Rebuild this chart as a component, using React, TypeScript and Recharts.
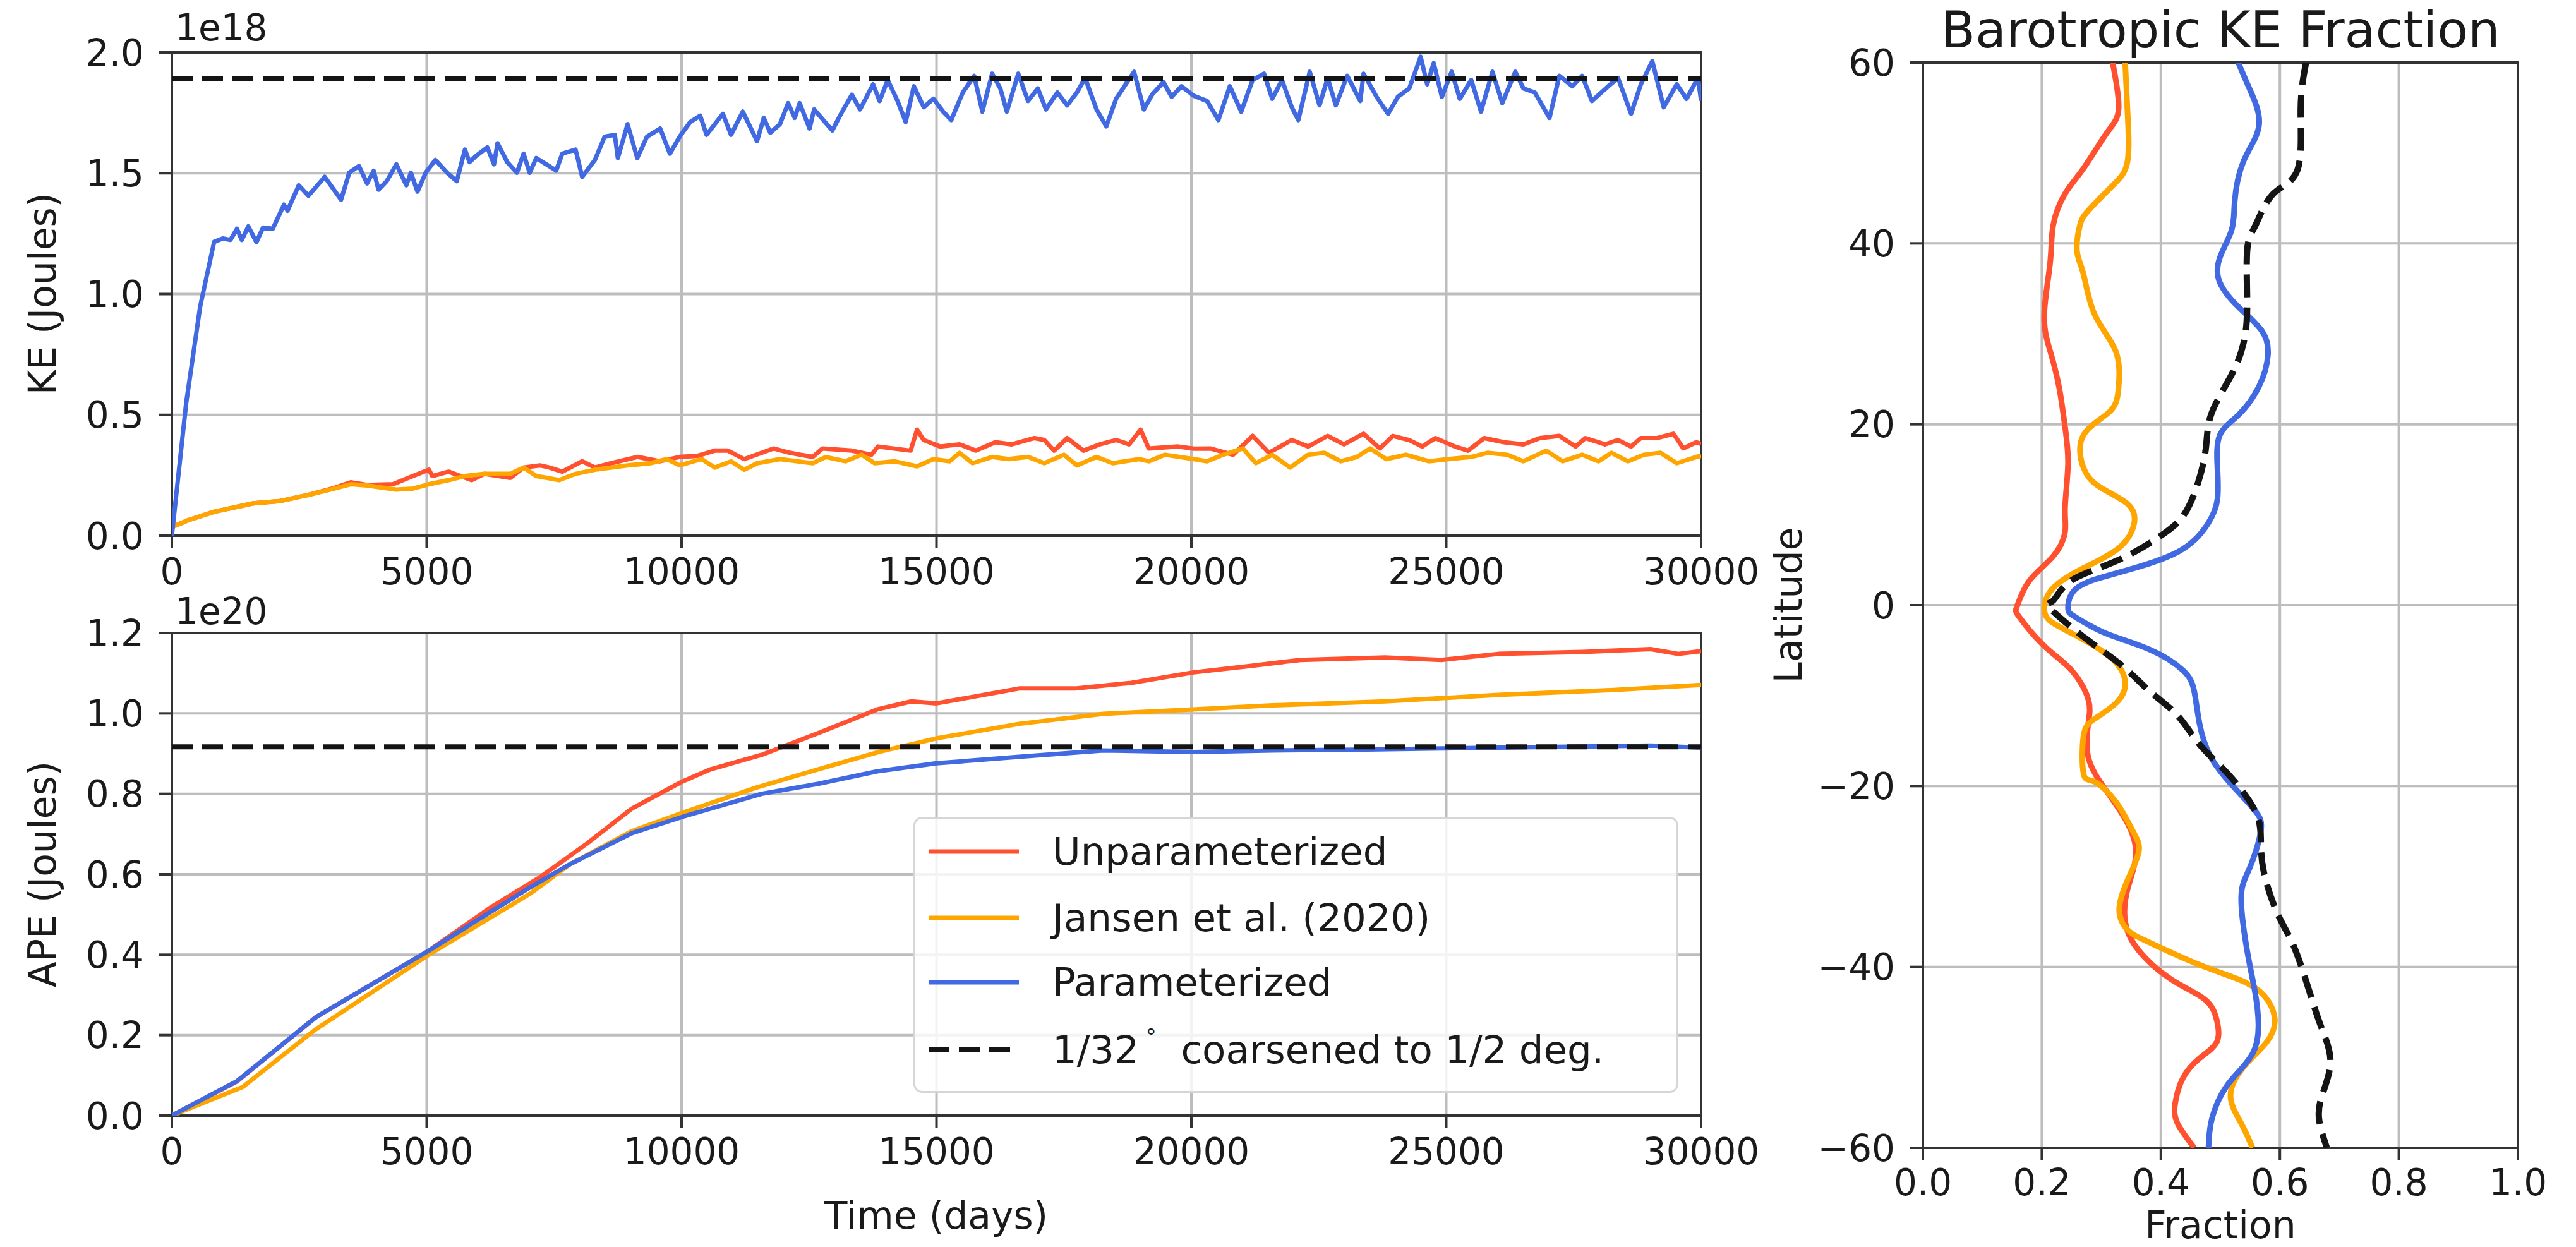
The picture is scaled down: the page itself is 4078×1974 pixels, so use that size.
import React from 'react';
import { LineChart, Line, XAxis, YAxis, CartesianGrid, ReferenceArea, Legend, Label } from 'recharts';

const FONT = 'DejaVu Sans';
const TEXT = '#1a1a1a';
const SPINE = '#333333';
const GRID = '#bdbdbd';

const seriesNames = ['Unparameterized', 'Jansen et al. (2020)', 'Parameterized', '1/32°coarsened to 1/2 deg.'];
const seriesColors = ['#ff5030', '#ffa500', '#4169e1', '#141414'];

const timeTicks = [0, 5000, 10000, 15000, 20000, 25000, 30000];
const keTicks = [0, 0.5, 1.0, 1.5, 2.0];
const apeTicks = [0, 0.2, 0.4, 0.6, 0.8, 1.0, 1.2];
const fracTicks = [0, 0.2, 0.4, 0.6, 0.8, 1.0];
const latTicks = [-60, -40, -20, 0, 20, 40, 60];

// KE (units of 1e18 J) vs time (days)
const keUnparam: [number, number][] = [
  [0, 0.035], [320, 0.064], [830, 0.099], [1600, 0.134], [2110, 0.143], [2680, 0.169], [3190, 0.198], [3510, 0.221],
  [3830, 0.21], [4340, 0.213], [4730, 0.247], [5045, 0.273], [5110, 0.247], [5430, 0.265], [5880, 0.23], [6130, 0.256],
  [6640, 0.239], [6900, 0.282], [7220, 0.291], [7410, 0.282], [7660, 0.265], [8050, 0.308], [8300, 0.282], [8620, 0.3],
  [9130, 0.326], [9580, 0.308], [9960, 0.326], [10300, 0.33], [10652, 0.352], [10908, 0.352], [11228, 0.317], [11804, 0.361],
  [12124, 0.343], [12572, 0.326], [12764, 0.361], [13340, 0.352], [13724, 0.335], [13852, 0.369], [14492, 0.352], [14620, 0.439],
  [14748, 0.396], [15068, 0.369], [15452, 0.378], [15772, 0.352], [16156, 0.387], [16476, 0.378], [16924, 0.404], [17116, 0.396],
  [17308, 0.352], [17564, 0.404], [17884, 0.352], [18204, 0.378], [18524, 0.396], [18780, 0.378], [19004, 0.439], [19164, 0.361],
  [19740, 0.369], [20050, 0.36], [20370, 0.361], [20818, 0.335], [21202, 0.413], [21522, 0.343], [21970, 0.396], [22290, 0.369],
  [22674, 0.413], [22994, 0.378], [23378, 0.422], [23698, 0.361], [23954, 0.413], [24274, 0.396], [24530, 0.369], [24786, 0.404],
  [25170, 0.369], [25426, 0.352], [25746, 0.404], [26130, 0.387], [26514, 0.378], [26834, 0.404], [27218, 0.413], [27538, 0.369],
  [27730, 0.404], [28114, 0.378], [28370, 0.396], [28626, 0.369], [28818, 0.404], [29138, 0.404], [29458, 0.422], [29650, 0.361],
  [29906, 0.387], [30000, 0.38],
];
const keJansen: [number, number][] = [
  [0, 0.035], [320, 0.064], [830, 0.099], [1600, 0.134], [2110, 0.143], [2680, 0.169], [3190, 0.195], [3510, 0.213],
  [3830, 0.208], [4400, 0.191], [4730, 0.195], [5045, 0.213], [5430, 0.23], [5750, 0.247], [6130, 0.256], [6640, 0.256],
  [6900, 0.282], [7150, 0.247], [7600, 0.23], [7920, 0.256], [8300, 0.273], [8940, 0.291], [9390, 0.3], [9710, 0.317],
  [9960, 0.291], [10396, 0.317], [10652, 0.282], [10972, 0.308], [11228, 0.273], [11484, 0.3], [11932, 0.317], [12572, 0.3],
  [12828, 0.326], [13212, 0.308], [13532, 0.335], [13788, 0.3], [14172, 0.308], [14620, 0.287], [14940, 0.317], [15260, 0.308],
  [15452, 0.343], [15708, 0.3], [16092, 0.326], [16412, 0.317], [16796, 0.326], [17116, 0.3], [17500, 0.335], [17756, 0.291],
  [18140, 0.326], [18460, 0.3], [18972, 0.317], [19164, 0.308], [19484, 0.335], [20050, 0.317], [20306, 0.308], [20626, 0.335],
  [21010, 0.361], [21266, 0.3], [21586, 0.335], [21938, 0.282], [22290, 0.335], [22610, 0.343], [22930, 0.308], [23250, 0.326],
  [23506, 0.361], [23826, 0.317], [24210, 0.335], [24658, 0.308], [25042, 0.317], [25490, 0.326], [25810, 0.343], [26194, 0.335],
  [26514, 0.308], [26962, 0.352], [27282, 0.308], [27666, 0.335], [27986, 0.308], [28242, 0.343], [28562, 0.308], [28882, 0.335],
  [29202, 0.343], [29522, 0.3], [29906, 0.326], [30000, 0.33],
];
const keParam: [number, number][] = [
  [0, 0], [282, 0.55], [557, 0.95], [830, 1.216], [1000, 1.23], [1150, 1.224], [1277, 1.27], [1373, 1.224], [1500, 1.28],
  [1660, 1.215], [1790, 1.275], [1980, 1.27], [2200, 1.37], [2270, 1.345], [2490, 1.45], [2680, 1.407], [3000, 1.485],
  [3320, 1.39], [3480, 1.502], [3670, 1.53], [3830, 1.458], [3960, 1.51], [4055, 1.432], [4215, 1.467], [4405, 1.537],
  [4600, 1.45], [4690, 1.502], [4820, 1.424], [4980, 1.502], [5170, 1.555], [5400, 1.502], [5590, 1.467], [5750, 1.598],
  [5840, 1.546], [5970, 1.572], [6190, 1.607], [6320, 1.537], [6390, 1.624], [6580, 1.546], [6770, 1.502], [6900, 1.581],
  [7020, 1.502], [7150, 1.563], [7540, 1.511], [7660, 1.581], [7920, 1.598], [8050, 1.485], [8300, 1.555], [8490, 1.651],
  [8690, 1.659], [8750, 1.563], [8940, 1.703], [9130, 1.563], [9320, 1.651], [9580, 1.685], [9770, 1.581], [9960, 1.651],
  [10170, 1.712], [10364, 1.738], [10490, 1.659], [10810, 1.746], [10970, 1.659], [11200, 1.755], [11480, 1.633], [11612, 1.729],
  [11740, 1.668], [11930, 1.703], [12090, 1.79], [12220, 1.729], [12316, 1.79], [12510, 1.685], [12600, 1.764], [12956, 1.677],
  [13150, 1.755], [13340, 1.825], [13500, 1.764], [13756, 1.868], [13884, 1.799], [14044, 1.886], [14236, 1.799], [14396, 1.712],
  [14556, 1.86], [14750, 1.773], [14940, 1.808], [15130, 1.755], [15290, 1.72], [15516, 1.834], [15740, 1.903], [15900, 1.755],
  [16092, 1.912], [16252, 1.851], [16380, 1.755], [16604, 1.912], [16796, 1.799], [16988, 1.851], [17148, 1.764], [17372, 1.834],
  [17564, 1.781], [17756, 1.834], [17916, 1.894], [18140, 1.764], [18332, 1.694], [18524, 1.808], [18876, 1.92], [19068, 1.764],
  [19228, 1.825], [19452, 1.877], [19612, 1.816], [19804, 1.86], [20050, 1.82], [20306, 1.799], [20530, 1.72], [20754, 1.86],
  [20978, 1.755], [21202, 1.886], [21426, 1.912], [21586, 1.808], [21778, 1.886], [21970, 1.773], [22098, 1.72], [22322, 1.92],
  [22514, 1.781], [22674, 1.894], [22834, 1.781], [23058, 1.903], [23314, 1.799], [23378, 1.912], [23634, 1.816], [23858, 1.746],
  [24050, 1.816], [24274, 1.851], [24498, 1.982], [24626, 1.868], [24754, 1.956], [24914, 1.816], [25106, 1.92], [25266, 1.808],
  [25490, 1.886], [25682, 1.755], [25906, 1.92], [26098, 1.79], [26354, 1.92], [26514, 1.851], [26738, 1.834], [27026, 1.729],
  [27218, 1.903], [27474, 1.86], [27666, 1.903], [27858, 1.799], [28178, 1.86], [28370, 1.894], [28626, 1.746], [28818, 1.868],
  [29042, 1.964], [29266, 1.773], [29522, 1.868], [29714, 1.808], [29938, 1.894], [30000, 1.8],
];
const keReference = 1.89;

// APE (units of 1e20 J) vs time (days)
const apeUnparam: [number, number][] = [
  [0, 0], [1280, 0.085], [2830, 0.245], [5040, 0.41], [6260, 0.518], [7250, 0.595], [8150, 0.677], [9020, 0.763],
  [10020, 0.831], [10570, 0.861], [11570, 0.897], [12680, 0.951], [13840, 1.01], [14510, 1.03], [15000, 1.025], [16620, 1.062],
  [17720, 1.062], [18820, 1.076], [20040, 1.102], [21150, 1.118], [22140, 1.133], [23800, 1.139], [24910, 1.133], [26020, 1.148],
  [27680, 1.153], [29010, 1.16], [29550, 1.148], [30000, 1.155],
];
const apeJansen: [number, number][] = [
  [0, 0], [1390, 0.071], [2830, 0.215], [5040, 0.4], [7040, 0.553], [7810, 0.625], [9020, 0.707], [10020, 0.753],
  [11450, 0.815], [12680, 0.861], [13890, 0.905], [15000, 0.938], [16620, 0.974], [18270, 0.999], [20040, 1.01], [21590, 1.02],
  [23800, 1.03], [26020, 1.046], [28230, 1.058], [30000, 1.071],
];
const apeParam: [number, number][] = [
  [0, 0], [1280, 0.086], [2830, 0.245], [5040, 0.41], [6260, 0.507], [6980, 0.564], [7810, 0.625], [9020, 0.702],
  [10020, 0.743], [11570, 0.8], [12680, 0.825], [13840, 0.856], [15000, 0.876], [16620, 0.892], [18270, 0.908], [20040, 0.904],
  [21590, 0.908], [23250, 0.91], [24910, 0.913], [27120, 0.917], [29010, 0.92], [30000, 0.915],
];
const apeReference = 0.917;

// Barotropic KE fraction: [fraction, latitude]
const btUnparam: [number, number][] = [
  [0.319, 60], [0.329, 54.9], [0.309, 52.2], [0.269, 48.2], [0.239, 45.5], [0.219, 42], [0.214, 37.9], [0.204, 32.1],
  [0.214, 28.1], [0.229, 24.1], [0.239, 19.7], [0.244, 15.6], [0.239, 10.8], [0.239, 8.1], [0.219, 5.4], [0.179, 2.7],
  [0.159, 0], [0.162, -1.3], [0.204, -4.5], [0.25, -7.2], [0.278, -10.4], [0.278, -13.1], [0.278, -16.8], [0.307, -20.4],
  [0.344, -24.1], [0.358, -27.7], [0.344, -31.4], [0.34, -35], [0.363, -38.2], [0.418, -41.4], [0.474, -43.6], [0.494, -45.9],
  [0.494, -48.3], [0.465, -50.1], [0.437, -52.3], [0.424, -55.1], [0.428, -57.3], [0.456, -60],
];
const btJansen: [number, number][] = [
  [0.34, 60], [0.344, 54.5], [0.344, 49.1], [0.319, 46.4], [0.279, 43.7], [0.264, 42], [0.259, 39.2], [0.27, 36.6],
  [0.289, 32.1], [0.324, 28.1], [0.329, 24.1], [0.314, 21.4], [0.27, 18.8], [0.27, 15.2], [0.299, 13], [0.344, 11.2],
  [0.355, 9], [0.329, 6.3], [0.27, 4.1], [0.219, 1.9], [0.204, -0.3], [0.213, -1.7], [0.25, -3.1], [0.316, -5.8],
  [0.34, -8.6], [0.325, -10.8], [0.288, -12.6], [0.27, -14.5], [0.27, -18.6], [0.288, -19.5], [0.325, -21.8], [0.353, -25],
  [0.363, -27.2], [0.344, -30.4], [0.33, -33.7], [0.344, -35.9], [0.381, -37.3], [0.474, -40], [0.558, -42.3], [0.591, -45.5],
  [0.578, -48.3], [0.54, -51], [0.517, -54.2], [0.535, -57.3], [0.554, -60],
];
const btParam: [number, number][] = [
  [0.53, 60], [0.549, 57.1], [0.565, 53.1], [0.539, 49.1], [0.524, 44.6], [0.519, 41.5], [0.499, 38.4], [0.499, 35.7],
  [0.53, 33], [0.569, 30.4], [0.58, 27.7], [0.565, 24.2], [0.53, 21], [0.499, 18.8], [0.495, 15.2], [0.495, 11.7],
  [0.479, 9], [0.429, 5.9], [0.329, 3.6], [0.259, 1.9], [0.244, -0.3], [0.256, -1.3], [0.307, -3.1], [0.381, -4.9],
  [0.437, -7.2], [0.456, -9.5], [0.465, -13.1], [0.484, -16.8], [0.521, -20], [0.558, -22.7], [0.568, -25], [0.549, -29.1],
  [0.535, -32.3], [0.545, -38.2], [0.558, -42.7], [0.564, -46.4], [0.554, -49.6], [0.521, -52.3], [0.498, -54.6], [0.484, -57.3],
  [0.48, -60],
];
const btReference: [number, number][] = [
  [0.644, 60], [0.635, 54.9], [0.63, 48.2], [0.589, 45.5], [0.559, 42], [0.545, 39.2], [0.545, 33], [0.539, 29],
  [0.519, 25.5], [0.484, 21], [0.474, 16.6], [0.449, 11.2], [0.409, 8.1], [0.329, 5], [0.249, 2.7], [0.219, 0.5],
  [0.213, -0.3], [0.27, -3.5], [0.335, -6.7], [0.381, -9.5], [0.428, -12.2], [0.465, -15.4], [0.512, -18.6], [0.558, -22.7],
  [0.568, -25.9], [0.573, -29.5], [0.596, -34.1], [0.624, -37.8], [0.652, -43.2], [0.671, -46.9], [0.685, -50.5], [0.671, -54.2],
  [0.666, -56.9], [0.679, -60],
];

const toTime = (arr: [number, number][]) => arr.map(([t, v]) => ({ t, v }));
const toLat = (arr: [number, number][]) => arr.map(([f, lat]) => ({ f, lat }));
const flatLine = (v: number) => [{ t: timeTicks[0], v }, { t: timeTicks[timeTicks.length - 1], v }];

const minus = (s: string) => s.replace('-', '\u2212');
const tickStyle = { fontSize: 58, fill: TEXT, fontFamily: FONT };
const tickLine = { stroke: SPINE, strokeWidth: 4 };

const txt = (x: number, y: number, s: string, size: number, anchor: string, rotate = false) => () => (
  <text
    x={x}
    y={y}
    fontSize={size}
    fontFamily={FONT}
    fill={TEXT}
    textAnchor={anchor as any}
    dominantBaseline={rotate ? 'central' : 'auto'}
    transform={rotate ? `rotate(-90 ${x} ${y})` : undefined}
  >
    {s}
  </text>
);

const LegendBox = () => {
  const rows = [55, 160, 262, 369];
  return (
    <div
      style={{
        width: 1211,
        height: 437,
        boxSizing: 'border-box',
        border: '3px solid #d6d6d6',
        borderRadius: 14,
        background: 'rgba(255,255,255,0.82)',
        position: 'relative',
      }}
    >
      <svg width={1211} height={437} style={{ position: 'absolute', left: -3, top: -3 }}>
        {seriesNames.map((name, i) => {
          const parts = name.split('°');
          return (
            <g key={name}>
              <line
                x1={24}
                x2={167}
                y1={rows[i]}
                y2={rows[i]}
                stroke={seriesColors[i]}
                strokeWidth={i === 3 ? 8 : 7}
                strokeDasharray={i === 3 ? '33 15' : undefined}
              />
              <text x={220} y={rows[i] + 21} fontSize={61} fontFamily={FONT} fill={TEXT}>
                {parts[0]}
                {parts.length > 1 && (
                  <>
                    <tspan fontSize={34} dy={-30}>{'\u00a0°'}</tspan>
                    <tspan dy={30}>{'\u00a0\u00a0' + parts[1]}</tspan>
                  </>
                )}
              </text>
            </g>
          );
        })}
      </svg>
    </div>
  );
};

const lineProps = { dot: false, isAnimationActive: false, strokeLinejoin: 'round' as const, activeDot: false };

function App() {
  return (
    <div style={{ position: 'absolute', left: 0, top: 0, width: 4078, height: 1974, background: '#fff', fontFamily: FONT }}>
      {/* KE panel */}
      <div style={{ position: 'absolute', left: 0, top: 0 }}>
        <LineChart width={2800} height={960} margin={{ top: 83, right: 107, bottom: 22, left: 52 }}>
          <CartesianGrid stroke={GRID} strokeWidth={4} />
          <XAxis dataKey="t" type="number" domain={[0, 30000]} ticks={timeTicks} interval={0} height={90}
            tick={tickStyle} tickLine={tickLine} tickSize={20} tickMargin={16} axisLine={false} allowDataOverflow />
          <YAxis type="number" domain={[0, 2]} ticks={keTicks} interval={0} width={220}
            tick={tickStyle} tickLine={tickLine} tickSize={20} tickMargin={24} axisLine={false}
            tickFormatter={(v: number) => v.toFixed(1)} allowDataOverflow>
            <Label content={txt(67, 465, 'KE (Joules)', 60, 'middle', true)} />
          </YAxis>
          <Line data={toTime(keUnparam)} dataKey="v" stroke={seriesColors[0]} strokeWidth={7} {...lineProps} />
          <Line data={toTime(keJansen)} dataKey="v" stroke={seriesColors[1]} strokeWidth={7} {...lineProps} />
          <Line data={toTime(keParam)} dataKey="v" stroke={seriesColors[2]} strokeWidth={7} {...lineProps} />
          <Line data={flatLine(keReference)} dataKey="v" stroke={seriesColors[3]} strokeWidth={8} strokeDasharray="33 15" {...lineProps} />
          <ReferenceArea x1={0} x2={30000} y1={0} y2={2} fill="none" stroke={SPINE} strokeWidth={4} ifOverflow="visible">
            <Label content={txt(277, 64, '1e18', 58, 'start')} />
          </ReferenceArea>
        </LineChart>
      </div>

      {/* APE panel */}
      <div style={{ position: 'absolute', left: 0, top: 900 }}>
        <LineChart width={2800} height={1074} margin={{ top: 102, right: 107, bottom: 24, left: 52 }}>
          <CartesianGrid stroke={GRID} strokeWidth={4} />
          <XAxis dataKey="t" type="number" domain={[0, 30000]} ticks={timeTicks} interval={0} height={184}
            tick={tickStyle} tickLine={tickLine} tickSize={20} tickMargin={16} axisLine={false} allowDataOverflow>
            <Label content={txt(1482, 1045, 'Time (days)', 60, 'middle')} />
          </XAxis>
          <YAxis type="number" domain={[0, 1.2]} ticks={apeTicks} interval={0} width={220}
            tick={tickStyle} tickLine={tickLine} tickSize={20} tickMargin={24} axisLine={false}
            tickFormatter={(v: number) => v.toFixed(1)} allowDataOverflow>
            <Label content={txt(67, 484, 'APE (Joules)', 60, 'middle', true)} />
          </YAxis>
          <Line data={toTime(apeUnparam)} dataKey="v" stroke={seriesColors[0]} strokeWidth={7} {...lineProps} />
          <Line data={toTime(apeJansen)} dataKey="v" stroke={seriesColors[1]} strokeWidth={7} {...lineProps} />
          <Line data={toTime(apeParam)} dataKey="v" stroke={seriesColors[2]} strokeWidth={7} {...lineProps} />
          <Line data={flatLine(apeReference)} dataKey="v" stroke={seriesColors[3]} strokeWidth={8} strokeDasharray="33 15" {...lineProps} />
          <ReferenceArea x1={0} x2={30000} y1={0} y2={1.2} fill="none" stroke={SPINE} strokeWidth={4} ifOverflow="visible">
            <Label content={txt(277, 88, '1e20', 58, 'start')} />
          </ReferenceArea>
          <Legend
            verticalAlign="middle"
            layout="horizontal"
            align="center"
            wrapperStyle={{ position: 'absolute', left: 1446, top: 393, width: 1211, height: 437, margin: 0, padding: 0 }}
            content={() => <LegendBox />}
          />
        </LineChart>
      </div>

      {/* Barotropic KE fraction panel */}
      <div style={{ position: 'absolute', left: 2740, top: 0 }}>
        <LineChart width={1338} height={1974} margin={{ top: 99, right: 92, bottom: 7, left: 104 }}>
          <CartesianGrid stroke={GRID} strokeWidth={4} />
          <XAxis dataKey="f" type="number" domain={[0, 1]} ticks={fracTicks} interval={0} height={150}
            tick={tickStyle} tickLine={tickLine} tickSize={20} tickMargin={14} axisLine={false}
            tickFormatter={(v: number) => v.toFixed(1)} allowDataOverflow>
            <Label content={txt(775, 1960, 'Fraction', 60, 'middle')} />
          </XAxis>
          <YAxis type="number" domain={[-60, 60]} ticks={latTicks} interval={0} width={200}
            tick={tickStyle} tickLine={tickLine} tickSize={20} tickMargin={24} axisLine={false}
            tickFormatter={(v: number) => minus(String(v))} allowDataOverflow>
            <Label content={txt(91, 958, 'Latitude', 60, 'middle', true)} />
          </YAxis>
          <Line data={toLat(btUnparam)} dataKey="lat" type="natural" stroke={seriesColors[0]} strokeWidth={9} {...lineProps} />
          <Line data={toLat(btJansen)} dataKey="lat" type="natural" stroke={seriesColors[1]} strokeWidth={9} {...lineProps} />
          <Line data={toLat(btParam)} dataKey="lat" type="natural" stroke={seriesColors[2]} strokeWidth={9} {...lineProps} />
          <Line data={toLat(btReference)} dataKey="lat" type="natural" stroke={seriesColors[3]} strokeWidth={10} strokeDasharray="36 16" {...lineProps} />
          <ReferenceArea x1={0} x2={1} y1={-60} y2={60} fill="none" stroke={SPINE} strokeWidth={4} ifOverflow="visible">
            <Label content={txt(775, 75, 'Barotropic KE Fraction', 80, 'middle')} />
          </ReferenceArea>
        </LineChart>
      </div>
    </div>
  );
}

export default App;
